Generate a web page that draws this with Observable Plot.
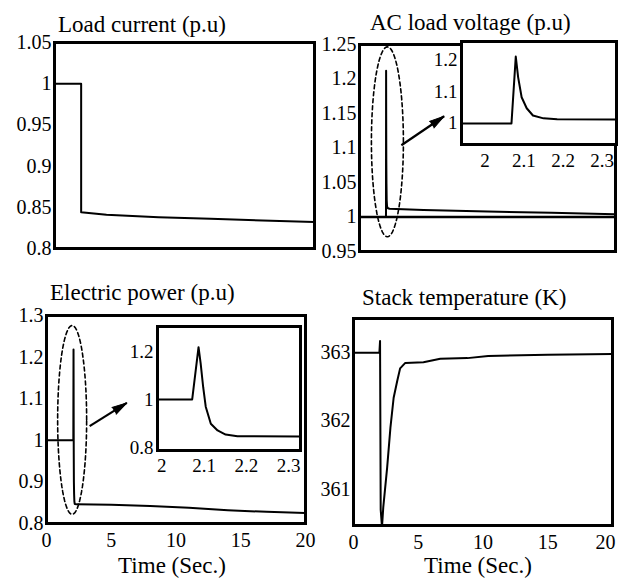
<!DOCTYPE html>
<html><head><meta charset="utf-8">
<script src="https://cdn.jsdelivr.net/npm/d3@7"></script>
<script src="https://cdn.jsdelivr.net/npm/@observablehq/plot@0.6"></script>
<style>
html,body{margin:0;padding:0;background:#fff;}
#fig{position:relative;width:619px;height:578px;overflow:hidden;background:#fff;font-family:"Liberation Serif","Times New Roman","DejaVu Serif",serif;color:#000;}
#fig svg{position:absolute;left:0;top:0;}
.lbl{position:absolute;white-space:nowrap;line-height:1;}
</style></head><body><div id="fig"></div><script>
// ---------- data ----------
const timeTicks = [0, 5, 10, 15];
const timeLastTick = [20];

// Load current (p.u)
const currentT = [0, 2.05, 2.05, 4, 8, 12, 16, 20];
const currentV = [1.0, 1.0, 0.844, 0.841, 0.838, 0.836, 0.834, 0.832];
const currentTicks = [0.8, 0.85, 0.9, 0.95, 1, 1.05];

// AC load voltage (p.u)
const voltageT = [0, 2.068, 2.079, 2.085, 2.094, 2.107, 2.123, 2.15, 2.185, 2.34, 5, 10, 15, 20];
const voltageV = [1.0, 1.0, 1.212, 1.147, 1.083, 1.048, 1.025, 1.016, 1.013, 1.012, 1.010, 1.008, 1.006, 1.004];
const voltageRef = [1.0];
const voltageTicks = [0.95, 1, 1.05, 1.1, 1.15, 1.2, 1.25];
const voltageInsetYTicks = [1, 1.1, 1.2];
const insetXTicks = [2, 2.1, 2.2, 2.3];

// Electric power (p.u)
const powerT = [0, 2.072, 2.087, 2.092, 2.098, 2.104, 2.116, 2.132, 2.151, 2.179, 2.33, 5, 8, 11, 14, 17, 20];
const powerV = [1.0, 1.0, 1.218, 1.15, 1.051, 0.97, 0.899, 0.871, 0.854, 0.847, 0.846, 0.845, 0.842, 0.838, 0.832, 0.828, 0.825];
const powerTicks = [0.8, 0.9, 1, 1.1, 1.2, 1.3];
const powerInsetYTicks = [0.8, 1, 1.2];

// Stack temperature (K)
const tempT = [0, 2.0, 2.05, 2.1, 2.2, 2.3, 2.6, 2.85, 3.1, 3.38, 3.6, 4.0, 5.4, 6.7, 8.8, 10.4, 15, 20];
const tempV = [363, 363, 363.17, 360.7, 360.45, 360.74, 361.32, 361.9, 362.34, 362.59, 362.77, 362.85, 362.86, 362.91, 362.92, 362.95, 362.97, 362.98];
const tempTicks = [361, 362, 363];

// annotations (data coordinates): dashed ellipses and arrows
const voltageEllipse = {cx: 2.18, cy: 1.109, rx: 1.25, ry: 0.1376};
const powerEllipse = {cx: 1.98, cy: 1.049, rx: 1.12, ry: 0.227};
const voltageArrow = [{x1: 3.27, y1: 1.104, x2: 6.61, y2: 1.146}];
const powerArrow = [{x1: 3.33, y1: 1.034, x2: 6.2, y2: 1.09}];

// ---------- layout ----------
const W = 619, H = 578;
const fig = document.getElementById("fig");
const fmt = d => String(+d.toFixed(2));
const FONT = "'Liberation Serif', 'Times New Roman', 'DejaVu Serif', serif";

function ellipsePts(e) {
  const n = 80, pts = [];
  for (let i = 0; i <= n; i++) {
    const a = (i / n) * 2 * Math.PI;
    pts.push({x: e.cx + e.rx * Math.cos(a), y: e.cy + e.ry * Math.sin(a)});
  }
  return pts;
}

function panel(box, xd, yd, marks, fs = 20, xAxisOn = true) {
  const svg = Plot.plot({
    width: W, height: H,
    marginLeft: box.l, marginRight: W - box.r, marginTop: box.t, marginBottom: H - box.b,
    style: {background: "transparent", overflow: "visible", fontFamily: FONT, fontSize: fs + "px", color: "#000"},
    x: xAxisOn ? {domain: xd} : {domain: xd, axis: null},
    y: {domain: yd},
    marks
  });
  fig.appendChild(svg);
}

function lineMarks(t, v) {
  return Plot.line(v, {x: t, y: v, stroke: "#000", strokeWidth: 2, clip: true});
}
const yAxis = (ticks, pad = 3) => Plot.axisY({ticks, tickFormat: fmt, tickSize: 0, tickPadding: pad, label: null});
const xAxis = (ticks, pad = 9, extra = {}) => Plot.axisX({ticks, tickFormat: fmt, tickSize: 0, tickPadding: pad, label: null, ...extra});
const frame = (w = 3) => Plot.frame({stroke: "#000", strokeWidth: w});

// arrow = line + filled spike head (angle derived from the panel's scales)
function arrowMarks(arr, box, xd, yd) {
  const kx = (box.r - box.l) / (xd[1] - xd[0]);
  const ky = (box.b - box.t) / (yd[1] - yd[0]);
  const ang = d => Math.atan2((d.x2 - d.x1) * kx, (d.y2 - d.y1) * ky) * 180 / Math.PI;
  return [
    Plot.link(arr, {x1: "x1", y1: "y1", x2: "x2", y2: "y2", stroke: "#000", strokeWidth: 2.2}),
    Plot.vector(arr, {x: "x2", y: "y2", rotate: ang, length: 15, shape: "spike", r: 4, anchor: "end", fill: "#000", stroke: "#000", strokeWidth: 1})
  ];
}

// Panel 1: Load current
const b1 = {l: 54, t: 42, r: 314, b: 248};
panel(b1, [0, 20], [0.8, 1.05], [
  lineMarks(currentT, currentV),
  frame(), yAxis(currentTicks)
], 20, false);

// Panel 2: AC load voltage
const b2 = {l: 359, t: 44, r: 615, b: 251}, x2d = [0, 20], y2d = [0.95, 1.25];
panel(b2, x2d, y2d, [
  Plot.ruleY(voltageRef, {stroke: "#000", strokeWidth: 2.5}),
  lineMarks(voltageT, voltageV),
  Plot.line(ellipsePts(voltageEllipse), {x: "x", y: "y", stroke: "#000", strokeWidth: 1.6, strokeDasharray: "4,3"}),
  ...arrowMarks(voltageArrow, b2, x2d, y2d),
  frame(), yAxis(voltageTicks)
], 20, false);

// Panel 3: Electric power
const b3 = {l: 46, t: 315, r: 305, b: 523}, x3d = [0, 20], y3d = [0.8, 1.3];
panel(b3, x3d, y3d, [
  lineMarks(powerT, powerV),
  Plot.line(ellipsePts(powerEllipse), {x: "x", y: "y", stroke: "#000", strokeWidth: 1.6, strokeDasharray: "4,3"}),
  ...arrowMarks(powerArrow, b3, x3d, y3d),
  frame(), yAxis(powerTicks), xAxis(timeTicks.concat(timeLastTick))
]);

// Panel 4: Stack temperature
panel({l: 353, t: 318, r: 612, b: 525}, [0, 20], [360.47, 363.5], [
  lineMarks(tempT, tempV),
  frame(), yAxis(tempTicks), xAxis(timeTicks), xAxis(timeLastTick, 9, {textAnchor: "end", dx: 3})
]);

// Inset of panel 2
panel({l: 461, t: 41, r: 616, b: 144}, [1.94, 2.337], [0.933, 1.26], [
  Plot.frame({fill: "#fff", stroke: "none"}),
  lineMarks(voltageT, voltageV),
  frame(), yAxis(voltageInsetYTicks, 4), xAxis(insetXTicks, 9)
], 19);

// Inset of panel 3
panel({l: 157, t: 326, r: 300, b: 450}, [1.99, 2.328], [0.7875, 1.304], [
  Plot.frame({fill: "#fff", stroke: "none"}),
  lineMarks(powerT, powerV),
  frame(), yAxis(powerInsetYTicks, 4), xAxis(insetXTicks, 8)
], 19);

// ---------- titles and axis labels ----------
const labels = [
  {text: "Load current (p.u)", x: 58, base: 32, size: 23},
  {text: "AC load voltage (p.u)", x: 370, base: 30, size: 23},
  {text: "Electric power (p.u)", x: 50, base: 300, size: 23},
  {text: "Stack temperature (K)", x: 362, base: 305, size: 23},
  {text: "Time (Sec.)", cx: 172, base: 573, size: 23},
  {text: "Time (Sec.)", cx: 478, base: 573, size: 23}
];
for (const l of labels) {
  const d = document.createElement("div");
  d.className = "lbl";
  d.textContent = l.text;
  d.style.fontSize = l.size + "px";
  if (l.cx != null) { d.style.left = l.cx + "px"; d.style.transform = "translateX(-50%)"; }
  else d.style.left = l.x + "px";
  d.style.top = (l.base - 0.837 * l.size) + "px";
  fig.appendChild(d);
}
</script></body></html>
